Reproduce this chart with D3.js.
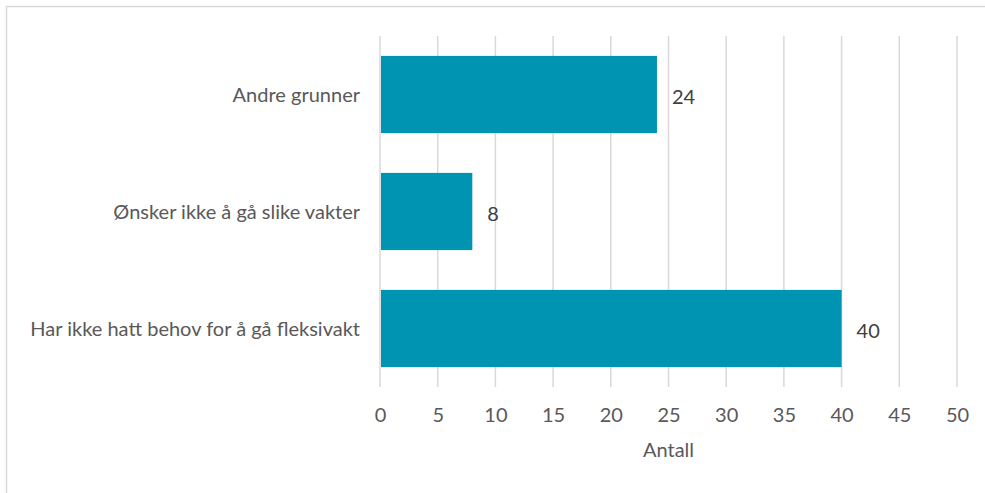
<!DOCTYPE html>
<html>
<head>
<meta charset="utf-8">
<script src="https://cdn.jsdelivr.net/npm/d3@7.9.0/dist/d3.min.js"></script>
<style>
  body { margin: 0; background: #fff; }
  svg { display: block; font-family: "Source Sans Pro", Lato, "Noto Sans", sans-serif; }
</style>
</head>
<body>
<svg id="chart"></svg>
<script>
const width = 985;
const height = 493;
const margin = { top: 36, right: 28, bottom: 106, left: 380 };

const categories = ["Andre grunner", "Ønsker ikke å gå slike vakter", "Har ikke hatt behov for å gå fleksivakt"];
const values = [24, 8, 40];
const xTicks = [0, 5, 10, 15, 20, 25, 30, 35, 40, 45, 50];
const xLabel = "Antall";

const data = categories.map((c, i) => ({ cat: c, val: values[i] }));
const fs = 20;

const svg = d3.select("#chart")
  .attr("width", width)
  .attr("height", height);

// outer frame
svg.append("rect")
  .attr("x", 6.5).attr("y", 6.5)
  .attr("width", width + 20).attr("height", height + 20)
  .attr("fill", "none")
  .attr("stroke", "#d9d9d9")
  .attr("stroke-width", 1.5);

const x = d3.scaleLinear()
  .domain([0, 50])
  .range([margin.left, width - margin.right]);

const y = d3.scaleBand()
  .domain(categories)
  .range([margin.top, height - margin.bottom])
  .paddingInner(0.34)
  .paddingOuter(0.17);

// gridlines
svg.append("g")
  .selectAll("line")
  .data(xTicks)
  .join("line")
  .attr("x1", d => x(d)).attr("x2", d => x(d))
  .attr("y1", margin.top).attr("y2", height - margin.bottom)
  .attr("stroke", "#d9d9d9")
  .attr("stroke-width", 1.5);

// bars
svg.append("g")
  .selectAll("rect")
  .data(data)
  .join("rect")
  .attr("x", x(0) + 1)
  .attr("y", d => y(d.cat))
  .attr("width", d => x(d.val) - x(0) - 1)
  .attr("height", y.bandwidth())
  .attr("fill", "#0094b3");

// value labels
svg.append("g")
  .selectAll("text")
  .data(data)
  .join("text")
  .attr("x", d => x(d.val) + 15)
  .attr("y", d => y(d.cat) + y.bandwidth() / 2 + 2)
  .attr("dy", "0.35em")
  .attr("fill", "#404040")
  .attr("font-size", fs)
  .text(d => d.val);

// category labels
svg.append("g")
  .selectAll("text")
  .data(categories)
  .join("text")
  .attr("x", margin.left - 20)
  .attr("y", d => y(d) + y.bandwidth() / 2)
  .attr("dy", "0.35em")
  .attr("text-anchor", "end")
  .attr("fill", "#595959")
  .attr("font-size", fs)
  .text(d => d);

// x axis
const xAxis = svg.append("g")
  .attr("transform", `translate(0,${height - margin.bottom})`)
  .call(d3.axisBottom(x).tickValues(xTicks).tickSize(0).tickPadding(21));
xAxis.select(".domain").remove();
xAxis.selectAll("text")
  .attr("fill", "#595959")
  .attr("font-size", fs)
  .attr("font-family", "\"Source Sans Pro\", Lato, \"Noto Sans\", sans-serif");

svg.append("text")
  .attr("x", (x(0) + x(50)) / 2)
  .attr("y", 457)
  .attr("text-anchor", "middle")
  .attr("fill", "#595959")
  .attr("font-size", fs)
  .text(xLabel);
</script>
</body>
</html>
